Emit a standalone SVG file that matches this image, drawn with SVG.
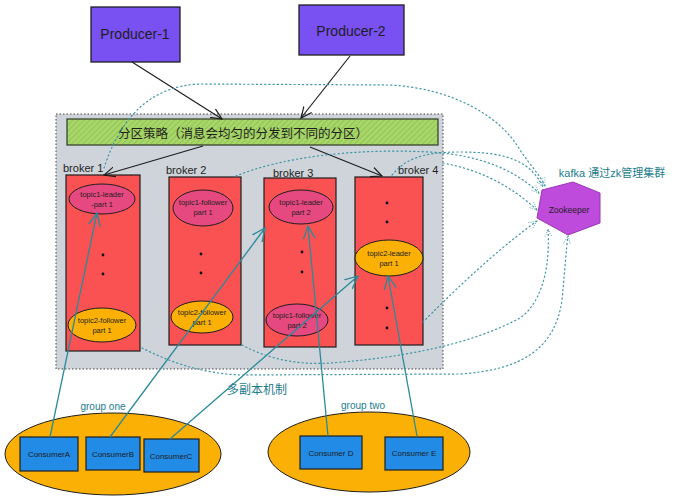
<svg xmlns="http://www.w3.org/2000/svg" width="674" height="500" viewBox="0 0 674 500">
<defs>
<style>
text{font-family:"Liberation Sans","Noto Sans CJK SC",sans-serif;fill:#1e1e1e;text-anchor:middle}
.prod{fill:#7950f2;stroke:#1e1e1e;stroke-width:1.3}
.broker{fill:#fa5252;stroke:#1e1e1e;stroke-width:1.2}
.pink{fill:#e64980;stroke:#1e1e1e;stroke-width:1}
.orange{fill:#fab005;stroke:#1e1e1e;stroke-width:1}
.cons{fill:#228be6;stroke:#1e1e1e;stroke-width:1.2}
.grp{fill:#fab005;stroke:#1e1e1e;stroke-width:1}
.et{font-size:7.5px}
.ct{font-size:8px}
.bl{font-size:11px;text-anchor:start}
.teal{fill:#1c7c8c}
.dot{fill:#111}
.blk{stroke:#1e1e1e;stroke-width:1.2;fill:none}
.tl{stroke:#2a8a9a;stroke-width:1.3;fill:none}
.dt{stroke:#3d95a6;stroke-width:1.2;fill:none;stroke-dasharray:1.2 3;stroke-linecap:round}
</style>
<pattern id="hatch" width="4" height="4" patternUnits="userSpaceOnUse" patternTransform="rotate(45)">
<rect width="4" height="4" fill="#a9d66b"/>
<line x1="0" y1="0" x2="0" y2="4" stroke="#86bf4a" stroke-width="1.5"/>
</pattern>
<marker id="ab" viewBox="0 0 12 12" refX="11" refY="6" markerWidth="12" markerHeight="12" markerUnits="userSpaceOnUse" orient="auto">
<path d="M0,1 L11,6 L0,11" fill="none" stroke="#1e1e1e" stroke-width="1.2"/>
</marker>
<marker id="at" viewBox="0 0 14 14" refX="13" refY="7" markerWidth="14" markerHeight="14" markerUnits="userSpaceOnUse" orient="auto">
<path d="M0,1 L13,7 L0,13" fill="none" stroke="#2a8a9a" stroke-width="1.3"/>
</marker>
<marker id="ad" viewBox="0 0 10 10" refX="9" refY="5" markerWidth="9" markerHeight="9" markerUnits="userSpaceOnUse" orient="auto">
<path d="M0,1 L9,5 L0,9" fill="none" stroke="#3d95a6" stroke-width="1" stroke-dasharray="1 1.5"/>
</marker>
</defs>
<rect width="674" height="500" fill="#ffffff"/>

<g id="cluster">
<rect x="56" y="114" width="387" height="255" fill="#ced4da" stroke="#444" stroke-width="1" stroke-dasharray="1.5 2"/>
</g>

<g id="producer1">
<rect class="prod" x="91" y="7" width="89" height="55"/>
<text x="135" y="39" style="font-size:14px">Producer-1</text>
</g>
<g id="producer2">
<rect class="prod" x="299" y="5" width="105" height="50"/>
<text x="351" y="36" style="font-size:14px">Producer-2</text>
</g>

<g id="strategy">
<rect x="67" y="119" width="371" height="26" fill="url(#hatch)" stroke="#2f3a26" stroke-width="1.2"/>
<text x="243" y="138" style="font-size:12.5px">分区策略（消息会均匀的分发到不同的分区）</text>
</g>

<g id="broker1">
<rect class="broker" x="66" y="175" width="74" height="176"/>
<text class="bl" x="63" y="172">broker 1</text>
<ellipse class="pink" cx="102" cy="199" rx="33" ry="15"/>
<text class="et" x="102" y="197">topic1-leader</text>
<text class="et" x="102" y="207">-part 1</text>
<circle class="dot" cx="103" cy="255" r="1.4"/>
<circle class="dot" cx="103" cy="274" r="1.4"/>
<ellipse class="orange" cx="102" cy="325" rx="34" ry="17"/>
<text class="et" x="102" y="323">topic2-follower</text>
<text class="et" x="102" y="333">part 1</text>
</g>

<g id="broker2">
<rect class="broker" x="169" y="177" width="72" height="168"/>
<text class="bl" x="166" y="174">broker 2</text>
<ellipse class="pink" cx="203" cy="208" rx="30" ry="18"/>
<text class="et" x="203" y="205">topic1-follower</text>
<text class="et" x="203" y="215">part 1</text>
<circle class="dot" cx="201" cy="254" r="1.4"/>
<circle class="dot" cx="201" cy="273" r="1.4"/>
<ellipse class="orange" cx="202" cy="317" rx="31" ry="16"/>
<text class="et" x="202" y="315">topic2-follower</text>
<text class="et" x="202" y="325">part 1</text>
</g>

<g id="broker3">
<rect class="broker" x="264" y="178" width="72" height="169"/>
<text class="bl" x="273" y="177">broker 3</text>
<ellipse class="pink" cx="301" cy="207" rx="32" ry="17"/>
<text class="et" x="301" y="205">topic1-leader</text>
<text class="et" x="301" y="215">part 2</text>
<circle class="dot" cx="302" cy="252" r="1.4"/>
<circle class="dot" cx="302" cy="272" r="1.4"/>
<ellipse class="pink" cx="297" cy="320" rx="31" ry="16"/>
<text class="et" x="297" y="318">topic1-follower</text>
<text class="et" x="297" y="328">part 2</text>
</g>

<g id="broker4">
<rect class="broker" x="355" y="177" width="68" height="168"/>
<text class="bl" x="398" y="174">broker 4</text>
<circle class="dot" cx="387" cy="203" r="1.4"/>
<circle class="dot" cx="387" cy="222" r="1.4"/>
<ellipse class="orange" cx="389" cy="258" rx="34" ry="18"/>
<text class="et" x="389" y="256">topic2-leader</text>
<text class="et" x="389" y="266">part 1</text>
<circle class="dot" cx="387" cy="308" r="1.4"/>
<circle class="dot" cx="387" cy="328" r="1.4"/>
</g>

<g id="zookeeper">
<polygon points="573,182 600,193 600,223 568,235 537,218 542,190" fill="#be4bdb" stroke="#9c36b5" stroke-width="1"/>
<text x="569" y="213" style="font-size:8.5px">Zookeeper</text>
<text x="612" y="177" class="teal" style="font-size:11px">kafka 通过zk管理集群</text>
</g>

<g id="group-one">
<ellipse class="grp" cx="113" cy="454" rx="108" ry="41"/>
<text x="103" y="410" class="teal" style="font-size:10px">group one</text>
<rect class="cons" x="20" y="437" width="58" height="34"/>
<text class="ct" x="49" y="457">ConsumerA</text>
<rect class="cons" x="86" y="437" width="54" height="33"/>
<text class="ct" x="113" y="457">ConsumerB</text>
<rect class="cons" x="144" y="439" width="55" height="33"/>
<text class="ct" x="171" y="459">ConsumerC</text>
</g>

<g id="group-two">
<ellipse class="grp" cx="369" cy="452" rx="101" ry="40"/>
<text x="363" y="409" class="teal" style="font-size:10px">group two</text>
<rect class="cons" x="300" y="436" width="62" height="33"/>
<text class="ct" x="331" y="456">Consumer D</text>
<rect class="cons" x="385" y="437" width="58" height="33"/>
<text class="ct" x="414" y="456">Consumer E</text>
</g>

<text x="257" y="394" class="teal" style="font-size:12px">多副本机制</text>

<g id="connectors">
<path class="blk" d="M132,62 L222,119" marker-end="url(#ab)"/>
<path class="blk" d="M350,56 L301,118" marker-end="url(#ab)"/>
<path class="blk" d="M203,146 L104,175" marker-end="url(#ab)"/>
<path class="blk" d="M310,147 L382,176" marker-end="url(#ab)"/>

<path class="tl" d="M50,437 L97,213" marker-end="url(#at)"/>
<path class="tl" d="M110,437 L265,228" marker-end="url(#at)"/>
<path class="tl" d="M170,439 L358,276" marker-end="url(#at)"/>
<path class="tl" d="M328,436 L308,226" marker-end="url(#at)"/>
<path class="tl" d="M417,436 L388,276" marker-end="url(#at)"/>

<path class="dt" d="M104,168 C118,125 145,86 200,84 L390,85 C450,88 500,115 520,150 C530,165 540,175 545,186" marker-end="url(#ad)"/>
<path class="dt" d="M392,175 C405,160 420,152 460,152 C505,152 530,160 543,187" marker-end="url(#ad)"/>
<path class="dt" d="M236,176 C280,158 350,148 430,152 C480,155 515,170 539,193" marker-end="url(#ad)"/>
<path class="dt" d="M443,163 C480,170 510,185 537,210" marker-end="url(#ad)"/>
<path class="dt" d="M423,322 C445,300 490,255 537,221" marker-end="url(#ad)"/>
<path class="dt" d="M242,345 C270,360 300,365 330,363 C400,358 470,345 520,318 C545,300 550,260 548,229" marker-end="url(#ad)"/>
<path class="dt" d="M142,348 C170,362 200,373 240,375 L460,374 C520,370 555,350 562,300 C565,270 566,250 568,236" marker-end="url(#ad)"/>
</g>
</svg>
